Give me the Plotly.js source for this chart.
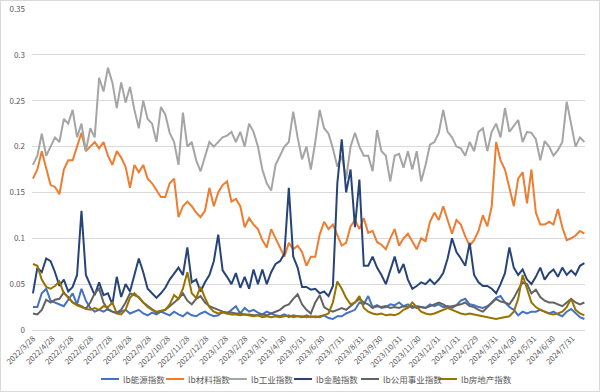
<!DOCTYPE html>
<html>
<head>
<meta charset="utf-8">
<script src="https://cdn.plot.ly/plotly-3.0.1.min.js"></script>
<style>
  html, body { margin: 0; padding: 0; background: #fff; }
  #chart { width: 598px; height: 390px; border: 1px solid #d9d9d9; }
</style>
</head>
<body>
<div id="chart"></div>
<script>
// Weekly samples starting 2022-03-28
const tickLabels = ['2022/3/28','2022/4/28','2022/5/28','2022/6/28','2022/7/28','2022/8/28','2022/9/28','2022/10/28','2022/11/28','2022/12/28','2023/1/28','2023/2/28','2023/3/31','2023/4/30','2023/5/31','2023/6/30','2023/7/31','2023/8/31','2023/9/30','2023/10/31','2023/11/30','2023/12/31','2024/1/31','2024/2/29','2024/3/31','2024/4/30','2024/5/31','2024/6/30','2024/7/31'];
const seriesNames = ['lb能源指数','lb材料指数','lb工业指数','lb金融指数','lb公用事业指数','lb房地产指数'];

const energy = [0.025,0.025,0.04,0.045,0.032,0.03,0.028,0.026,0.033,0.04,0.028,0.045,0.032,0.024,0.02,0.022,0.02,0.023,0.02,0.018,
0.02,0.022,0.018,0.02,0.022,0.018,0.016,0.019,0.017,0.02,0.018,0.016,0.02,0.017,0.015,0.019,0.016,0.015,0.018,0.02,
0.017,0.015,0.016,0.02,0.018,0.022,0.026,0.018,0.024,0.02,0.022,0.019,0.017,0.02,0.018,0.016,0.015,0.017,0.014,0.016,
0.015,0.014,0.016,0.014,0.015,0.014,0.016,0.013,0.012,0.015,0.015,0.018,0.02,0.022,0.03,0.028,0.037,0.025,0.027,0.024,
0.025,0.028,0.027,0.03,0.026,0.028,0.024,0.026,0.025,0.024,0.028,0.026,0.028,0.025,0.026,0.024,0.027,0.032,0.034,0.028,
0.027,0.025,0.024,0.026,0.03,0.035,0.037,0.03,0.025,0.022,0.016,0.02,0.018,0.02,0.02,0.022,0.02,0.018,0.02,0.017,
0.015,0.02,0.023,0.018,0.014,0.012];

const materials = [0.165,0.175,0.195,0.175,0.158,0.156,0.148,0.175,0.185,0.185,0.2,0.215,0.195,0.2,0.205,0.198,0.205,0.19,0.18,0.195,
0.188,0.178,0.155,0.18,0.172,0.18,0.165,0.16,0.152,0.145,0.145,0.16,0.165,0.123,0.135,0.14,0.135,0.128,0.123,0.13,
0.155,0.135,0.15,0.158,0.162,0.14,0.143,0.135,0.112,0.122,0.115,0.11,0.098,0.09,0.11,0.1,0.09,0.08,0.095,0.088,
0.092,0.085,0.07,0.08,0.08,0.104,0.118,0.11,0.115,0.104,0.092,0.095,0.113,0.12,0.11,0.122,0.106,0.108,0.096,0.093,
0.088,0.1,0.11,0.092,0.1,0.105,0.097,0.088,0.1,0.097,0.118,0.128,0.12,0.135,0.12,0.105,0.12,0.115,0.102,0.092,
0.098,0.108,0.125,0.113,0.135,0.205,0.185,0.175,0.155,0.135,0.165,0.172,0.138,0.175,0.128,0.115,0.115,0.118,0.115,0.132,
0.112,0.098,0.1,0.103,0.108,0.105];

const industry = [0.18,0.19,0.214,0.19,0.2,0.21,0.205,0.23,0.225,0.24,0.21,0.225,0.195,0.22,0.21,0.275,0.26,0.286,0.27,0.242,
0.27,0.248,0.265,0.24,0.22,0.25,0.23,0.225,0.205,0.243,0.235,0.215,0.205,0.18,0.237,0.2,0.205,0.185,0.173,0.19,
0.205,0.2,0.205,0.21,0.212,0.216,0.205,0.216,0.2,0.225,0.216,0.2,0.175,0.16,0.152,0.18,0.19,0.2,0.205,0.238,
0.21,0.186,0.2,0.175,0.205,0.24,0.22,0.214,0.198,0.178,0.19,0.165,0.2,0.215,0.2,0.19,0.19,0.173,0.218,0.195,
0.19,0.162,0.19,0.192,0.177,0.195,0.175,0.195,0.162,0.18,0.202,0.205,0.215,0.24,0.216,0.21,0.2,0.198,0.19,0.205,
0.195,0.216,0.22,0.195,0.216,0.225,0.21,0.242,0.216,0.222,0.229,0.205,0.216,0.215,0.208,0.185,0.206,0.2,0.19,0.196,
0.205,0.249,0.225,0.2,0.21,0.205];

const finance = [0.04,0.068,0.063,0.078,0.075,0.063,0.048,0.055,0.042,0.047,0.06,0.13,0.06,0.048,0.038,0.052,0.038,0.04,0.028,0.058,
0.036,0.05,0.042,0.06,0.078,0.063,0.045,0.04,0.035,0.04,0.046,0.055,0.062,0.068,0.06,0.09,0.052,0.055,0.042,0.052,
0.06,0.075,0.104,0.065,0.058,0.05,0.062,0.046,0.058,0.045,0.066,0.05,0.066,0.05,0.063,0.072,0.075,0.083,0.155,0.08,
0.068,0.047,0.047,0.044,0.045,0.04,0.042,0.037,0.048,0.16,0.208,0.15,0.175,0.112,0.164,0.07,0.07,0.08,0.068,0.06,
0.05,0.065,0.08,0.062,0.072,0.055,0.045,0.048,0.052,0.05,0.055,0.05,0.055,0.062,0.078,0.1,0.085,0.078,0.07,0.095,
0.06,0.052,0.048,0.048,0.045,0.04,0.05,0.062,0.09,0.068,0.06,0.066,0.055,0.05,0.058,0.068,0.055,0.062,0.066,0.058,
0.068,0.06,0.065,0.06,0.07,0.073];

const utilities = [0.018,0.017,0.022,0.033,0.03,0.033,0.034,0.041,0.035,0.03,0.028,0.026,0.023,0.03,0.04,0.045,0.03,0.022,0.02,0.019,
0.022,0.03,0.04,0.038,0.036,0.03,0.026,0.022,0.019,0.02,0.022,0.026,0.03,0.034,0.04,0.032,0.028,0.034,0.037,0.03,
0.026,0.024,0.022,0.02,0.019,0.019,0.018,0.018,0.017,0.017,0.016,0.016,0.017,0.016,0.018,0.02,0.022,0.026,0.028,0.034,
0.039,0.028,0.022,0.018,0.03,0.038,0.025,0.022,0.02,0.022,0.024,0.022,0.026,0.03,0.034,0.03,0.028,0.024,0.026,0.025,
0.026,0.024,0.025,0.024,0.026,0.025,0.026,0.024,0.025,0.024,0.026,0.028,0.03,0.028,0.025,0.026,0.027,0.028,0.03,0.026,
0.025,0.022,0.02,0.025,0.03,0.034,0.031,0.03,0.028,0.035,0.044,0.052,0.05,0.04,0.044,0.036,0.032,0.03,0.03,0.028,
0.026,0.03,0.034,0.03,0.028,0.03];

const realEstate = [0.072,0.07,0.055,0.047,0.045,0.048,0.053,0.04,0.036,0.03,0.027,0.025,0.023,0.022,0.024,0.022,0.026,0.025,0.03,0.018,
0.017,0.022,0.035,0.04,0.035,0.03,0.025,0.022,0.02,0.021,0.022,0.028,0.038,0.034,0.045,0.063,0.04,0.035,0.047,0.035,
0.025,0.02,0.018,0.019,0.018,0.017,0.017,0.016,0.017,0.016,0.015,0.016,0.014,0.015,0.014,0.015,0.014,0.015,0.016,0.014,
0.015,0.015,0.014,0.015,0.014,0.015,0.016,0.018,0.03,0.053,0.045,0.035,0.028,0.03,0.037,0.024,0.02,0.018,0.017,0.018,
0.016,0.017,0.016,0.018,0.022,0.024,0.03,0.025,0.02,0.018,0.017,0.018,0.02,0.022,0.024,0.022,0.02,0.018,0.017,0.018,
0.017,0.016,0.015,0.014,0.013,0.012,0.013,0.014,0.015,0.02,0.034,0.06,0.045,0.03,0.025,0.022,0.02,0.018,0.017,0.018,
0.02,0.025,0.034,0.022,0.018,0.016];

const colors = ['#4472C4','#ED7D31','#A5A5A5','#264478','#636363','#997300'];
const allSeries = [energy, materials, industry, finance, utilities, realEstate];

function pad(n){ return (n < 10 ? '0' : '') + n; }
function isoFromMs(ms){ const d = new Date(ms); return d.getUTCFullYear()+'-'+pad(d.getUTCMonth()+1)+'-'+pad(d.getUTCDate()); }
const t0 = Date.UTC(2022, 2, 28);
const dates = energy.map((_, i) => isoFromMs(t0 + i * 7 * 86400000));
const tickVals = tickLabels.map(s => { const p = s.split('/'); return p[0]+'-'+pad(+p[1])+'-'+pad(+p[2]); });

const traces = allSeries.map((ys, k) => ({
  x: dates, y: ys, type: 'scatter', mode: 'lines', name: seriesNames[k],
  line: { color: colors[k], width: 2 }, showlegend: false
}));

// Legend drawn below the plot (Excel style): short line key + label
const W = 598, H = 390, mL = 31, mR = 14, mT = 8, mB = 61;
const pw = W - mL - mR, ph = H - mT - mB;
const legendStartPx = [101, 166, 229, 294, 361, 439]; // key start, in chart px
const legendYPx = 379;
const shapes = [], annotations = [];
legendStartPx.forEach((px, k) => {
  const x0 = (px - 1 - mL) / pw, x1 = (px - 1 + 18 - mL) / pw;
  const y = (H - mB - (legendYPx - 1)) / ph;
  shapes.push({ type: 'line', xref: 'paper', yref: 'paper', x0: x0, x1: x1, y0: y, y1: y,
                line: { color: colors[k], width: 2 } });
  annotations.push({ xref: 'paper', yref: 'paper', x: (px - 1 + 20 - mL) / pw, y: y, xanchor: 'left', yanchor: 'middle',
                     text: seriesNames[k], showarrow: false,
                     font: { family: '"Noto Sans CJK SC", "Noto Sans", sans-serif', size: 8.5, color: '#595959' } });
});

const fam = '"Noto Sans CJK SC", "Noto Sans", sans-serif';
const layout = {
  width: W, height: H,
  margin: { l: mL, r: mR, t: mT, b: mB, autoexpand: false },
  paper_bgcolor: '#fff', plot_bgcolor: '#fff',
  font: { family: fam, color: '#595959', size: 9 },
  showlegend: false,
  shapes: shapes, annotations: annotations,
  xaxis: {
    type: 'date', range: ['2022-03-26 12:00', '2024-08-20'],
    tickmode: 'array', tickvals: tickVals, ticktext: tickLabels, tickangle: -45,
    tickfont: { family: fam, size: 7.8, color: '#595959' },
    showgrid: false, showline: true, linecolor: '#d9d9d9', linewidth: 1, ticks: '', zeroline: false
  },
  yaxis: {
    range: [0, 0.35], tickvals: [0,0.05,0.1,0.15,0.2,0.25,0.3,0.35], ticktext: ['0','0.05','0.1','0.15','0.2','0.25','0.3','0.35'],
    tickfont: { family: fam, size: 8, color: '#595959' },
    showgrid: true, gridcolor: '#d9d9d9', gridwidth: 1, zeroline: false, showline: false, ticks: '', ticklabelstandoff: 6
  }
};
Plotly.newPlot('chart', traces, layout, { displayModeBar: false, staticPlot: true });
</script>
</body>
</html>
